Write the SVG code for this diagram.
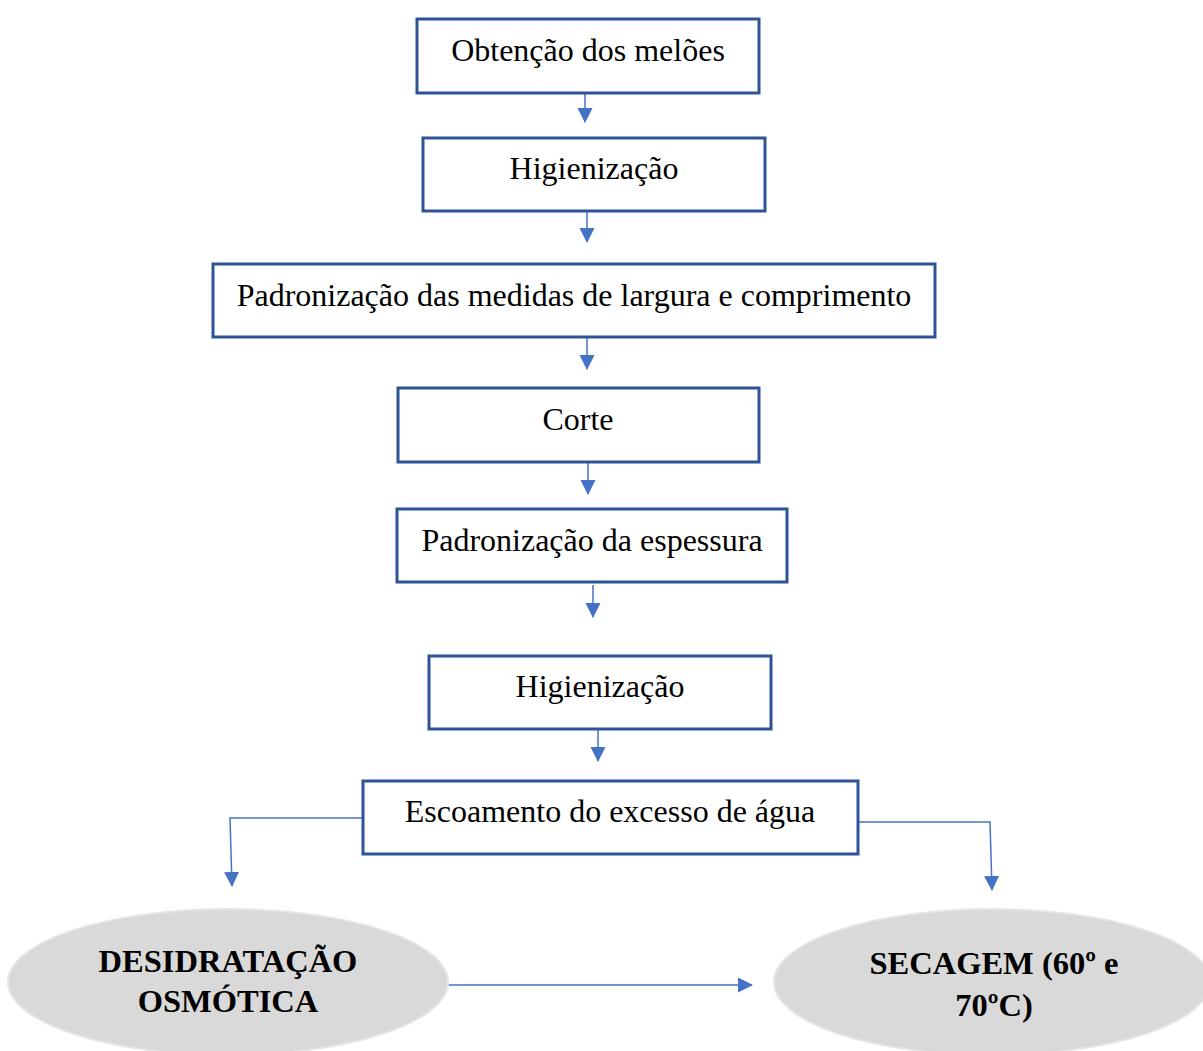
<svg xmlns="http://www.w3.org/2000/svg" width="1203" height="1051" viewBox="0 0 1203 1051">
<style>
.box{fill:#fff;stroke:#2F5496;stroke-width:3}
.t{font-family:"Liberation Serif","Times New Roman",serif;font-size:32px;fill:#000;text-anchor:middle}
.b{font-family:"Liberation Serif","Times New Roman",serif;font-size:32.5px;font-weight:bold;fill:#000;text-anchor:middle}
.ell{fill:#D9D9D9;stroke:#E6E6E6;stroke-width:2}
.c{fill:none;stroke:#4472C4;stroke-width:1.5;marker-end:url(#ah)}
</style>
<defs>
<marker id="ah" markerWidth="16" markerHeight="16" refX="14" refY="7.5" orient="auto" markerUnits="userSpaceOnUse">
<path d="M0,0 L15,7.5 L0,15 Z" fill="#4472C4"/>
</marker>
</defs>
<rect width="1203" height="1051" fill="#fff"/>
<g id="connectors">
<path class="c" d="M585,93 V122"/>
<path class="c" d="M587,211 V242"/>
<path class="c" d="M587,337 V369"/>
<path class="c" d="M588,462 V494"/>
<path class="c" d="M593,585 V617"/>
<path class="c" d="M598,729 V761"/>
<path class="c" d="M363,818 H230 L232,886"/>
<path class="c" d="M858,822 H990 L992,890"/>
<path class="c" d="M448,985 H752"/>
</g>
<g id="n1"><rect class="box" x="417" y="19" width="342" height="74"/><text class="t" x="588" y="61">Obtenção dos melões</text></g>
<g id="n2"><rect class="box" x="423" y="138" width="342" height="73"/><text class="t" x="594" y="179">Higienização</text></g>
<g id="n3"><rect class="box" x="213" y="264" width="722" height="73"/><text class="t" x="574" y="306">Padronização das medidas de largura e comprimento</text></g>
<g id="n4"><rect class="box" x="398" y="388" width="361" height="74"/><text class="t" x="578" y="430">Corte</text></g>
<g id="n5"><rect class="box" x="397" y="509" width="390" height="73"/><text class="t" x="592" y="551">Padronização da espessura</text></g>
<g id="n6"><rect class="box" x="429" y="656" width="342" height="73"/><text class="t" x="600" y="697">Higienização</text></g>
<g id="n7"><rect class="box" x="363" y="781" width="495" height="73"/><text class="t" x="610" y="822">Escoamento do excesso de água</text></g>
<g id="n8"><ellipse class="ell" cx="228" cy="982" rx="220" ry="73"/><text class="b" x="228" y="972">DESIDRATAÇÃO</text><text class="b" x="228" y="1012">OSMÓTICA</text></g>
<g id="n9"><ellipse class="ell" cx="992" cy="982" rx="218" ry="73"/><text class="b" x="994" y="974">SECAGEM (60º e</text><text class="b" x="994" y="1016">70ºC)</text></g>
</svg>
